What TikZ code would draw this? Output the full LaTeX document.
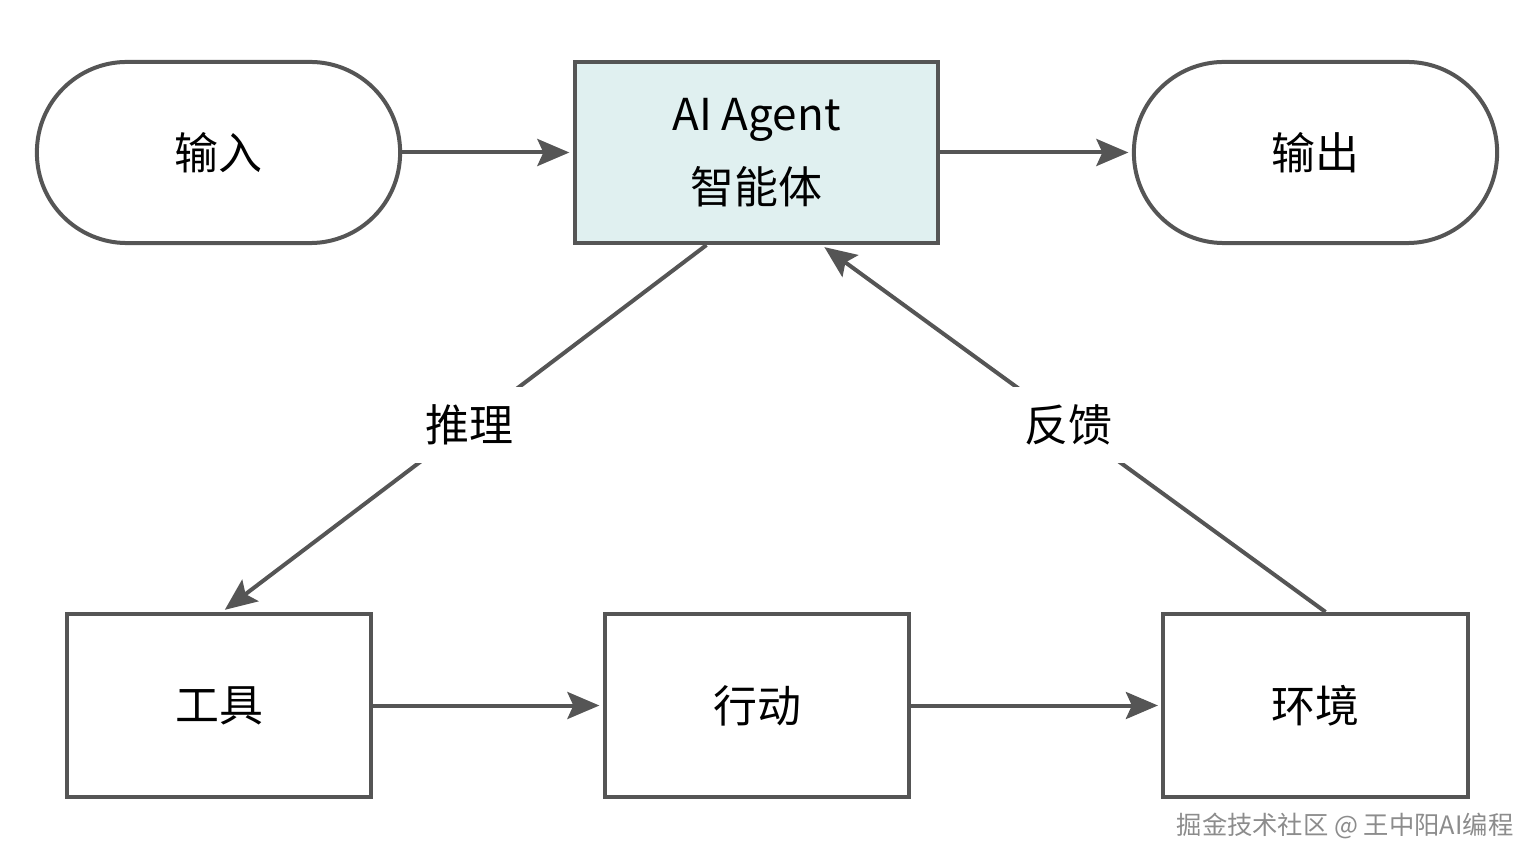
\documentclass[tikz,border=0pt]{standalone}
\usepackage{fontspec}
\setmainfont{Noto Sans CJK SC}
\usetikzlibrary{arrows.meta}
\definecolor{linegray}{RGB}{85,85,85}
\definecolor{agentfill}{RGB}{224,240,240}
\newcommand\cnfont{\fontsize{12.5pt}{15pt}\selectfont}
\tikzset{
    %Define standard arrow tip
    >={Stealth[length=0.32cm,width=0.27cm,inset=0.06cm]},
    %Define style for the rounded ends
    terminal/.style={
           rectangle,
           rounded corners=0.9cm,
           draw=linegray, line width=0.04cm,
           minimum width=3.63cm,
           minimum height=1.81cm,
           font=\cnfont,
           text centered},
    agentbox/.style={
           rectangle,
           draw=linegray, line width=0.04cm,
           minimum width=3.63cm,
           minimum height=1.81cm,
           font=\fontsize{12.5pt}{20.7pt}\selectfont,
           align=center,
           fill=agentfill},
    stepbox/.style={
           rectangle,
           draw=linegray, line width=0.04cm,
           minimum width=3.04cm,
           minimum height=1.83cm,
           font=\cnfont,
           text centered},
    lbl/.style={
           fill=white,
           font=\cnfont,
           inner sep=5pt},
    % Define arrow style
    pil/.style={
           ->,
           draw=linegray,
           line width=0.04cm,
           shorten >=1pt}
}
\begin{document}
\begin{tikzpicture}[x=0.01cm,y=-0.01cm]
\useasboundingbox (0,0) rectangle (1536,864);
 %nodes
\node[terminal](input) at (218.5,152.5){输入};
\node[agentbox](agent) at (756.5,152.5){AI Agent\\智能体};
\node[terminal](output) at (1315.5,152.5){输出};
\node[stepbox](tool) at (219,705.5){工具};
\node[stepbox](act) at (757,705.5){行动};
\node[stepbox](env) at (1315.5,705.5){环境};
 %edges
\draw[pil] (input) -- (agent);
\draw[pil] (agent) -- (output);
\draw[pil] (tool) -- (act);
\draw[pil] (act) -- (env);
\draw[pil] ([xshift=-0.5cm]agent.south) -- node[lbl, pos=0.49]{推理} ([xshift=0.03cm]tool.north);
\draw[pil] ([xshift=0.1cm]env.north) -- node[lbl, pos=0.51]{反馈} ([xshift=0.65cm]agent.south);
 %mark
\node[font=\fontsize{7.2pt}{9pt}\selectfont, text=black!45](mark) at (1345,826){掘金技术社区 @ 王中阳AI编程};
\end{tikzpicture}
\end{document}
